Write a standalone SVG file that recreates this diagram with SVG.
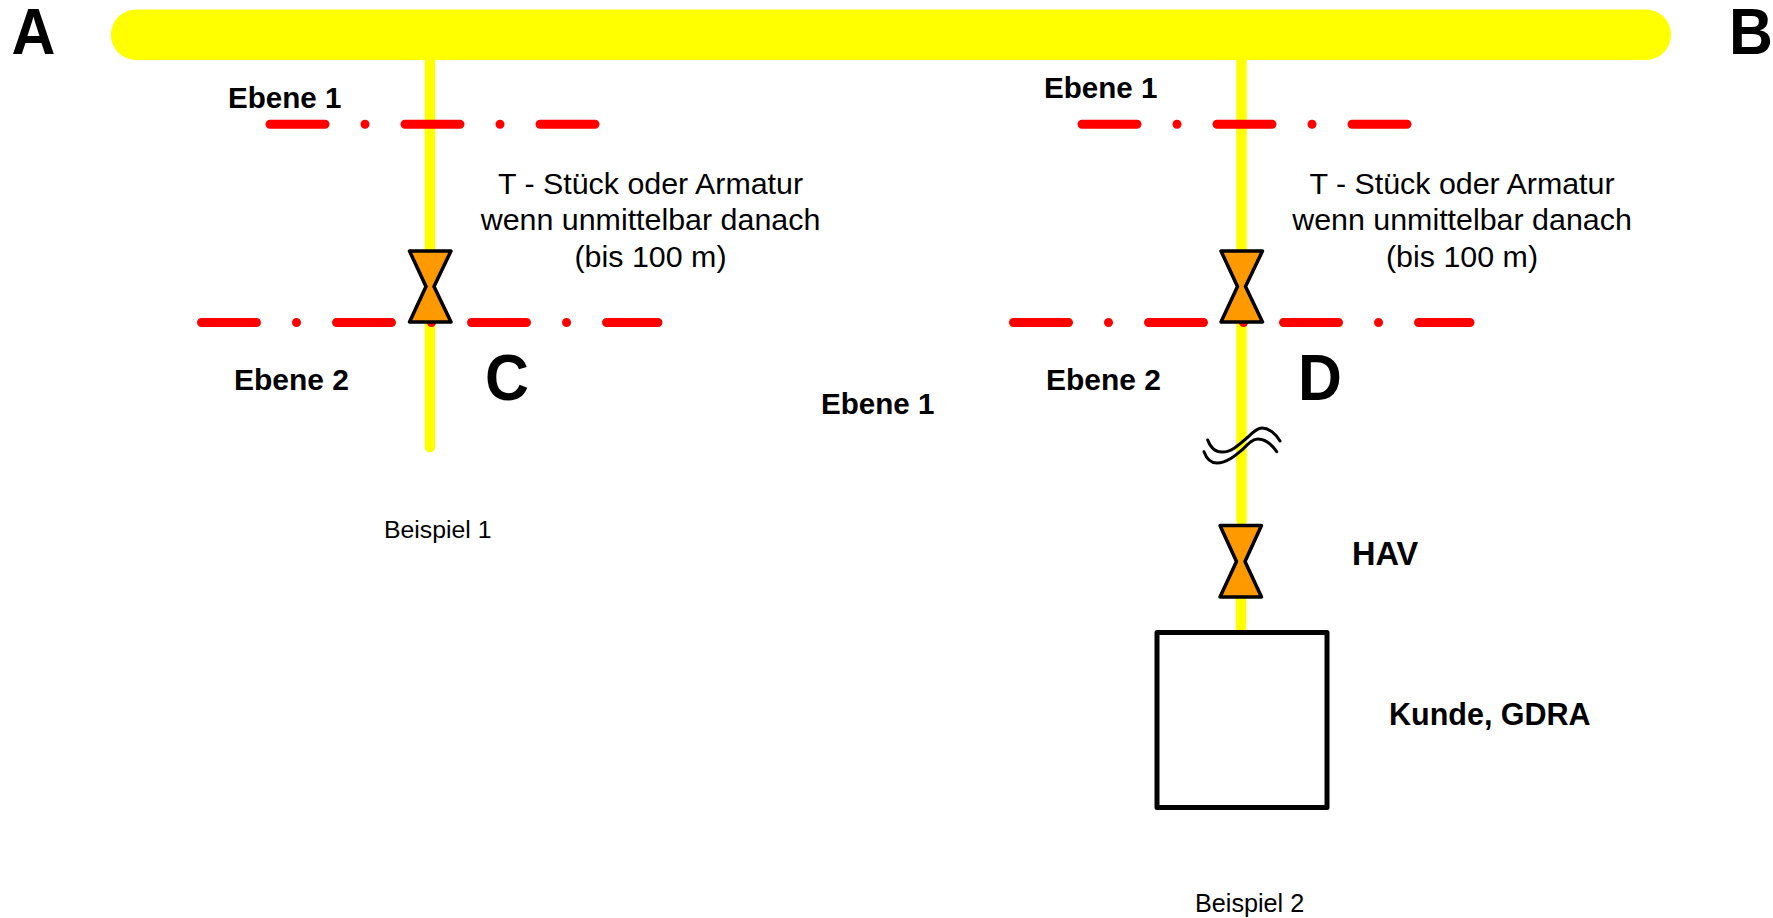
<svg xmlns="http://www.w3.org/2000/svg" width="1773" height="918" viewBox="0 0 1773 918">
<style>
text{font-family:"Liberation Sans",Arial,sans-serif;fill:#000}
.b{font-weight:700;font-size:30px}
.e1{font-size:29.600px}
.big{font-weight:700;font-size:64px}
.n{font-size:30.400px;text-anchor:middle}
.s{font-size:24.800px}
.pipe{fill:none;stroke:#ff0;stroke-width:10.500;stroke-linecap:round}
.axis{fill:none;stroke:#f00;stroke-width:9;stroke-linecap:round;stroke-dasharray:55 40 0.01 40}
.valve{fill:#f90;stroke:#000;stroke-width:3.500;stroke-linejoin:round}
.wave{fill:none;stroke:#000;stroke-width:3;stroke-linecap:round}
</style>
<rect width="1773" height="918" fill="#fff"/>
<g id="connectors">
<rect x="111" y="9.500" width="1560" height="50.500" rx="25" fill="#ff0"/>
<path class="pipe" d="M430 55V447"/>
<path class="pipe" d="M1241.500 55V521"/>
<path class="pipe" d="M1241 597V630" style="stroke-linecap:butt"/>
<path class="axis" d="M270 124.300H595"/>
<path class="axis" d="M1082 124.300H1407"/>
<path class="axis" d="M201.500 322.500H658"/>
<path class="axis" d="M1013.500 322.500H1470"/>
</g>
<g id="wave">
<path class="wave" d="M1207.700 440C1211 449 1216 452 1222 452C1232 452 1240 444 1248 437C1254 431 1258 428 1262 428C1269 428 1276 434 1280 441"/>
<path class="wave" d="M1204 451.700C1207 460 1212 463 1217 463C1227 463 1236 455 1243 449C1249 443 1253 439 1258 439C1265 439 1272 445 1276.700 451.700"/>
</g>
<g id="valve-c"><path class="valve" d="M409.500 251H451L434 286.500L451 322H409.500L426 286.500Z"/></g>
<g id="valve-d"><path class="valve" d="M1221 251H1262.500L1245.500 286.500L1262.500 322H1221L1237.500 286.500Z"/></g>
<g id="hav"><path class="valve" d="M1220 525.500H1261.500L1245 561.500L1261.500 597H1220L1236.500 561.500Z"/></g>
<g id="kunde"><rect x="1157" y="632.500" width="170" height="175" fill="#fff" stroke="#000" stroke-width="5" stroke-linejoin="round"/></g>
<g id="labels">
<text class="big" transform="translate(11.500 53.500) scale(.95 1)">A</text>
<text class="big" transform="translate(1729 53.500) scale(.95 1)">B</text>
<text class="big" transform="translate(485 400) scale(.95 1)">C</text>
<text class="big" transform="translate(1298 400) scale(.95 1)">D</text>
<text class="b e1" x="228" y="108">Ebene 1</text>
<text class="b e1" x="1044" y="98">Ebene 1</text>
<text class="b" x="234" y="390">Ebene 2</text>
<text class="b" x="1046" y="390">Ebene 2</text>
<text class="b e1" x="821" y="414">Ebene 1</text>
<text class="b" x="1352" y="565" style="font-size:32.500px">HAV</text>
<text class="b" x="1389" y="725" style="font-size:30.500px">Kunde, GDRA</text>
<text class="n" x="650.500" y="194">T - Stück oder Armatur</text>
<text class="n" x="650.500" y="230">wenn unmittelbar danach</text>
<text class="n" x="650.500" y="267">(bis 100 m)</text>
<text class="n" x="1462" y="194">T - Stück oder Armatur</text>
<text class="n" x="1462" y="230">wenn unmittelbar danach</text>
<text class="n" x="1462" y="267">(bis 100 m)</text>
<text class="s" x="384" y="538">Beispiel 1</text>
<text class="s" x="1195" y="912" style="font-size:25.200px">Beispiel 2</text>
</g>
</svg>
